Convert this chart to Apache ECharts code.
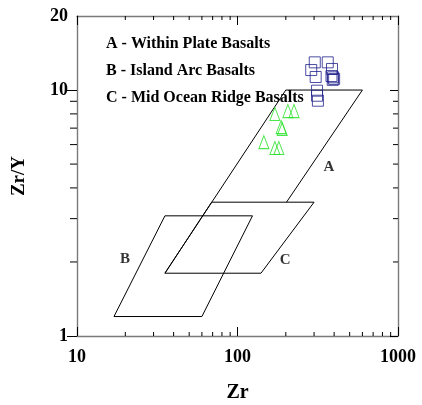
<!DOCTYPE html>
<html><head><meta charset="utf-8">
<script src="https://cdn.jsdelivr.net/npm/echarts@6/dist/echarts.min.js"></script>
<style>html,body{margin:0;padding:0;background:#fff}#c{width:422px;height:405px}</style>
</head><body><div id="c"></div>
<script>
// ---- data ----
const xMajorTicks = [10, 100, 1000];
const yMajorTicks = [1, 10];
const xMinorTicks = [20, 30, 40, 50, 60, 70, 80, 90, 200, 300, 400, 500, 600, 700, 800, 900];
const yMinorTicks = [2, 3, 4, 5, 6, 7, 8, 9];

const squaresZr  = [303, 288, 365, 388, 307, 385, 394, 400, 392, 313, 313, 317];
const squaresZrY = [12.96, 12.06, 12.96, 12.18, 11.3, 11.4, 11.27, 11.1, 11.0, 9.94, 9.48, 9.05];

const trianglesZr  = [171, 206, 225, 187, 190, 146, 171, 181];
const trianglesZrY = [7.99, 8.21, 8.21, 7.07, 6.95, 6.14, 5.81, 5.81];

const fieldA = [[35.3, 1.8], [200, 10], [600, 10], [202, 3.5]];
const fieldB = [[35.3, 3.08], [124, 3.08], [60, 1.2], [17, 1.2], [35.3, 3.08]];
const fieldC = [[69, 3.5], [300, 3.5], [140, 1.8], [35.3, 1.8], [69, 3.5]];

const fieldLabels = ['A', 'B', 'C'];
const fieldLabelZr = [371, 19.9, 198];
const fieldLabelZrY = [4.86, 2.05, 2.03];

const legendLines = ['A - Within Plate Basalts', 'B - Island Arc Basalts', 'C - Mid Ocean Ridge Basalts'];

// ---- chart ----
const FONT = '"Liberation Serif", "Times New Roman", serif';
const X_MIN = 10, X_MAX = 1000, Y_MIN = 1, Y_MAX = 20;
const axisLineStyle = { color: '#7a7a7a', width: 1.4 };
const tickStyle = { color: '#000', width: 1 };
const labelStyle = { fontFamily: FONT, fontWeight: 'bold', fontSize: 18, color: '#000' };
function fmt(v) { return String(Math.round(v)); }

const chart = echarts.init(document.getElementById('c'), null, { renderer: 'canvas' });

function lineSeries(data) {
  return {
    type: 'line', data: data, symbol: 'none', silent: true, animation: false,
    lineStyle: { color: '#000', width: 1 }, z: 2
  };
}

const option = {
  animation: false,
  backgroundColor: '#fff',
  grid: { left: 77, right: 24, top: 16, bottom: 69, containLabel: false, outerBoundsMode: 'none' },
  xAxis: [
    {
      type: 'log', logBase: 10, min: X_MIN, max: X_MAX, position: 'bottom',
      axisLine: { show: true, onZero: false, lineStyle: axisLineStyle },
      axisTick: { show: true, inside: true, length: 9, lineStyle: tickStyle, customValues: xMajorTicks },
      axisLabel: Object.assign({ margin: 12, customValues: xMajorTicks, formatter: fmt }, labelStyle),
      splitLine: { show: false }, minorTick: { show: false },
      name: 'Zr', nameLocation: 'middle', nameGap: 47,
      nameTextStyle: { fontFamily: FONT, fontWeight: 'bold', fontSize: 20, color: '#000' }
    },
    {
      type: 'log', logBase: 10, min: X_MIN, max: X_MAX, position: 'top',
      axisLine: { show: true, onZero: false, lineStyle: axisLineStyle },
      axisTick: { show: true, inside: true, length: 9, lineStyle: tickStyle, customValues: xMajorTicks },
      axisLabel: { show: false }, splitLine: { show: false }
    }
  ],
  yAxis: [
    {
      type: 'log', logBase: 10, min: Y_MIN, max: Y_MAX, position: 'left',
      axisLine: { show: true, onZero: false, lineStyle: axisLineStyle },
      axisTick: { show: true, inside: false, length: 10, lineStyle: tickStyle, customValues: yMajorTicks },
      axisLabel: Object.assign({ margin: 9, formatter: fmt }, labelStyle),
      splitLine: { show: false },
      name: 'Zr/Y', nameLocation: 'middle', nameGap: 48,
      nameTextStyle: { fontFamily: FONT, fontWeight: 'bold', fontSize: 19, color: '#000' }
    },
    {
      type: 'log', logBase: 10, min: Y_MIN, max: Y_MAX, position: 'right',
      axisLine: { show: true, onZero: false, lineStyle: axisLineStyle },
      axisTick: { show: true, inside: true, length: 8, lineStyle: tickStyle, customValues: yMajorTicks },
      axisLabel: { show: false }, splitLine: { show: false }
    }
  ],
  graphic: legendLines.map(function (t, i) {
    return {
      type: 'text', left: 106, top: 36 + i * 27, silent: true,
      style: { text: t, font: 'bold 16px ' + FONT, fill: '#000' }
    };
  }),
  series: [
    lineSeries(fieldA),
    lineSeries(fieldB),
    lineSeries(fieldC),
    {
      type: 'scatter', silent: true, symbolSize: 0,
      data: fieldLabels.map(function (n, i) { return { name: n, value: [fieldLabelZr[i], fieldLabelZrY[i]] }; }),
      label: { show: true, position: 'inside', formatter: '{b}', fontFamily: FONT, fontWeight: 'bold', fontSize: 15, color: '#000' }
    },
    {
      type: 'scatter', symbol: 'rect', symbolSize: 11, silent: true, z: 5,
      data: squaresZr.map(function (x, i) { return [x, squaresZrY[i]]; }),
      itemStyle: { color: 'rgba(0,0,0,0)', borderColor: '#22228c', borderWidth: 1 }
    },
    {
      type: 'scatter', symbol: 'triangle', symbolSize: [10, 13], silent: true, z: 5,
      data: trianglesZr.map(function (x, i) { return [x, trianglesZrY[i]]; }),
      itemStyle: { color: 'rgba(0,0,0,0)', borderColor: '#1ee01e', borderWidth: 1 }
    },
    {
      // minor ticks on the x axes (bottom: inward, top: inward)
      type: 'custom', silent: true, clip: false, z: 10,
      data: xMinorTicks.map(function (v) { return [v, Y_MIN]; }),
      renderItem: function (params, api) {
        const v = api.value(0);
        const b = api.coord([v, Y_MIN]);
        const t = api.coord([v, Y_MAX]);
        return {
          type: 'group', children: [
            { type: 'line', shape: { x1: b[0], y1: b[1], x2: b[0], y2: b[1] - 4 }, style: { stroke: '#000', lineWidth: 1 } },
            { type: 'line', shape: { x1: t[0], y1: t[1], x2: t[0], y2: t[1] + 4 }, style: { stroke: '#000', lineWidth: 1 } }
          ]
        };
      }
    },
    {
      // minor ticks on the y axes (left: outward, right: inward)
      type: 'custom', silent: true, clip: false, z: 10,
      data: yMinorTicks.map(function (v) { return [X_MIN, v]; }),
      renderItem: function (params, api) {
        const v = api.value(1);
        const l = api.coord([X_MIN, v]);
        const r = api.coord([X_MAX, v]);
        return {
          type: 'group', children: [
            { type: 'line', shape: { x1: l[0] - 7, y1: l[1], x2: l[0], y2: l[1] }, style: { stroke: '#000', lineWidth: 1 } },
            { type: 'line', shape: { x1: r[0] - 5, y1: r[1], x2: r[0], y2: r[1] }, style: { stroke: '#000', lineWidth: 1 } }
          ]
        };
      }
    }
  ]
};
chart.setOption(option);
</script>
</body></html>
